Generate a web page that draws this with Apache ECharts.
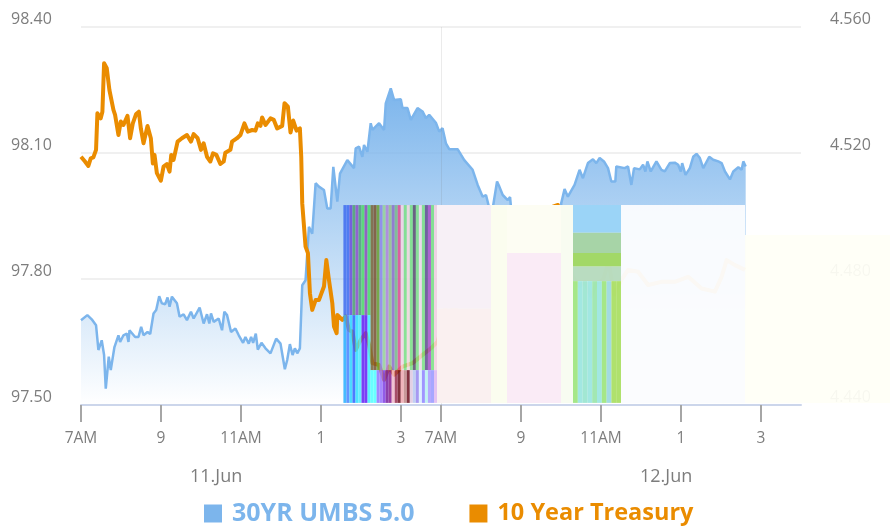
<!DOCTYPE html>
<html>
<head>
<meta charset="utf-8">
<style>html,body{margin:0;padding:0;background:#fff}#c{width:890px;height:529px}</style>
<script src="https://cdn.jsdelivr.net/npm/echarts@6/dist/echarts.min.js"></script>
</head>
<body>
<div id="c"></div>
<script>
// Time is in hours on a compressed session axis: 0 = 11 Jun 7AM, 9 = 12 Jun 7AM
const tickHours = [0, 2, 4, 6, 8, 9, 11, 13, 15, 17];
const tickLabels = ['7AM', '9', '11AM', '1', '3', '7AM', '9', '11AM', '1', '3'];
const dateLabels = ['11.Jun', '12.Jun'];
const seriesNames = ['30YR UMBS 5.0', '10 Year Treasury'];

const umbsHours = [0,.159,.268,.376,.435,.518,.577,.619,.694,.744,.836,.936,.978,1.061,1.145,1.187,1.212,1.354,1.437,1.504,1.563,1.663,1.73,1.813,1.88,1.955,2.022,2.106,2.164,2.214,2.273,2.398,2.465,2.565,2.649,2.749,2.816,2.966,3.066,3.15,3.208,3.25,3.317,3.442,3.526,3.584,3.651,3.751,3.86,3.944,4.052,4.111,4.194,4.253,4.303,4.37,4.42,4.512,4.612,4.737,4.879,4.988,5.096,5.155,5.222,5.289,5.347,5.406,5.472,5.531,5.614,5.698,5.781,5.865,5.948,6.074,6.157,6.241,6.308,6.408,6.475,6.658,6.825,6.867,6.951,7.034,7.076,7.16,7.243,7.285,7.452,7.577,7.619,7.744,7.828,7.995,8.037,8.162,8.246,8.413,8.538,8.622,8.705,8.872,8.956,9.039,9.123,9.206,9.415,9.582,9.791,9.917,10.042,10.125,10.209,10.292,10.401,10.459,10.543,10.668,10.727,10.752,11,11.5,12,12.005,12.089,12.172,12.339,12.464,12.548,12.673,12.799,12.882,12.966,13.074,13.175,13.258,13.358,13.383,13.592,13.676,13.759,13.826,13.968,14.052,14.11,14.16,14.244,14.386,14.511,14.595,14.72,14.845,14.929,14.996,15.029,15.113,15.221,15.305,15.388,15.472,15.556,15.706,15.806,15.932,16.015,16.099,16.224,16.307,16.433,16.516,16.558,16.617];
const umbsValues = [97.702,97.714,97.704,97.69,97.631,97.654,97.619,97.539,97.615,97.583,97.638,97.666,97.65,97.666,97.67,97.65,97.678,97.662,97.662,97.686,97.666,97.674,97.669,97.718,97.726,97.759,97.742,97.74,97.756,97.734,97.758,97.742,97.71,97.716,97.702,97.722,97.706,97.732,97.694,97.716,97.694,97.718,97.698,97.706,97.678,97.722,97.714,97.674,97.682,97.666,97.648,97.662,97.646,97.662,97.648,97.67,97.632,97.648,97.635,97.623,97.658,97.646,97.585,97.607,97.645,97.619,97.635,97.623,97.635,97.785,97.797,97.924,97.908,98.028,98.02,98.012,97.968,97.968,98.067,97.984,98.051,98.083,98.064,98.111,98.115,98.091,98.119,98.103,98.171,98.155,98.171,98.155,98.218,98.254,98.226,98.228,98.207,98.207,98.179,98.207,98.199,98.183,98.191,98.172,98.151,98.159,98.123,98.109,98.109,98.083,98.06,98.024,97.996,98,97.968,97.968,98.032,98.02,98,97.988,97.995,97.968,97.862,97.862,97.87,97.98,98.014,97.996,98.024,98.06,98.04,98.076,98.085,98.076,98.088,98.08,98.064,98.032,98.032,98.068,98.064,98.068,98.024,98.064,98.061,98.072,98.056,98.08,98.056,98.08,98.06,98.056,98.076,98.077,98.072,98.056,98.076,98.048,98.064,98.091,98.098,98.088,98.064,98.091,98.084,98.08,98.076,98.056,98.037,98.056,98.066,98.06,98.08,98.068];

const treasuryHours = [0,.1,.184,.243,.309,.376,.41,.493,.535,.577,.644,.71,.744,.811,.852,.894,.936,.994,1.061,1.103,1.162,1.228,1.295,1.379,1.446,1.496,1.563,1.663,1.746,1.796,1.838,1.897,1.997,2.064,2.147,2.214,2.256,2.314,2.415,2.523,2.649,2.749,2.816,2.916,3,3.066,3.15,3.233,3.3,3.384,3.484,3.567,3.609,3.735,3.776,3.902,3.985,4.086,4.169,4.278,4.361,4.42,4.486,4.528,4.612,4.737,4.821,4.904,5.03,5.088,5.172,5.238,5.305,5.389,5.472,5.506,5.531,5.614,5.673,5.723,5.781,5.865,5.948,6.074,6.133,6.199,6.283,6.325,6.391,6.408,6.533,6.617,6.7,6.784,6.868,6.993,7.118,7.202,7.285,7.452,7.578,7.703,7.828,8.037,8.288,8.538,8.747,8.914,9.04,9.123,9.374,9.583,9.833,10.168,10.335,10.46,10.669,10.752,10.919,11.087,11.254,11.462,11.588,11.671,11.797,11.922,12.047,12.298,12.465,12.59,12.757,12.883,13.05,13.192,13.326,13.509,13.676,13.927,14.177,14.511,14.845,15.18,15.514,15.848,16.015,16.14,16.349,16.6];
const treasuryValues = [4.5188,4.5173,4.5159,4.5183,4.5186,4.521,4.5326,4.531,4.5331,4.5485,4.5469,4.54,4.5405,4.5337,4.5321,4.5324,4.5257,4.53,4.5289,4.5284,4.5318,4.5247,4.5294,4.5324,4.5331,4.5278,4.5231,4.5286,4.5247,4.5167,4.5194,4.5136,4.5112,4.5157,4.5165,4.5141,4.5194,4.5178,4.5236,4.5247,4.5257,4.5236,4.526,4.5247,4.521,4.5231,4.5188,4.5173,4.5199,4.5194,4.5165,4.5173,4.5201,4.521,4.5236,4.5247,4.5257,4.5294,4.5268,4.5273,4.5271,4.5294,4.5286,4.5313,4.5289,4.531,4.5305,4.5278,4.5286,4.5358,4.5347,4.5265,4.5303,4.5271,4.5278,4.5188,4.504,4.4903,4.4882,4.4755,4.4702,4.4733,4.4733,4.4776,4.486,4.4797,4.4723,4.4649,4.4628,4.4686,4.467,4.4681,4.4638,4.4633,4.4575,4.4607,4.4628,4.4591,4.4533,4.4527,4.448,4.4522,4.4496,4.4522,4.4533,4.4559,4.458,4.4601,4.466,4.4718,4.4707,4.4766,4.4829,4.4893,4.4882,4.4845,4.4882,4.4967,4.4977,4.4945,4.4972,4.4956,4.4988,4.4967,4.503,4.5035,4.4924,4.4808,4.4776,4.4792,4.4744,4.4787,4.4797,4.4855,4.475,4.4797,4.4829,4.4823,4.4781,4.4791,4.4791,4.4807,4.477,4.476,4.4807,4.486,4.4844,4.4829];

// Palette of the reference's corrupted render, kept apart from the data
const stripUpperColors = ['#3f6cf0','#3f6cf0','#6a4cd8','#4fa070','#8a4fc8','#4f9f78','#4fd868','#8a4fb8','#48d868','#7a6438','#7a5230','#68a030','#8a86e8','#96d096','#ae82d8','#96c088','#8a70c8','#78b888','#e04c90','#f2d6e2','#7ce084','#f0d8d8','#7ce084','#5e4e70','#80e088','#f2d8e6','#7ce084','#644e90','#a850c8','#7ce084','#f4d0e0'];
const stripLowerColors = ['#28b0ff','#4a84ff','#30d4ff','#3064ff','#30e0ff','#50e8ff','#6420f4','#6420f4','#40f0ff','#50ffff','#50ffff','#9074ff','#9874ff','#8040e4','#7820a0','#882090','#f0b8cc','#983050','#701020','#f0a8b0','#c08888','#701020','#e0c8e0','#b8c8f0','#9888f0','#d8ecff','#9084ff','#b8f0f0','#a898ff','#9898ff','#e0b8f0'];

function fix(n, d) { return Number(n).toFixed(d); }
function zip(a, b) { return a.map((x, i) => [x, b[i]]); }

const T = 97.976, B = 97.505;
const overlay = [];
function rect(h0, h1, v0, v1, color, opacity) {
  overlay.push({ value: [h0, h1, v0, v1], itemStyle: { color, opacity } });
}
// pale panels first
rect(8.9, 16.6, T, B, '#fbfcfe', 0.96);
rect(16.6, 20.3, 97.905, B, '#fffff6', 0.94);
rect(8.9, 10.25, T, 97.73, '#f7f0f6', 0.97);
rect(8.9, 10.25, 97.73, B, '#faf0f0', 0.97);
rect(10.25, 10.65, T, B, '#fbfdee', 0.97);
rect(10.65, 12.0, T, 97.862, '#fdfdf2', 0.94);
rect(10.65, 12.0, 97.862, B, '#faeaf6', 0.96);
rect(12.0, 12.3, T, B, '#f8fcf0', 0.96);
// green block
rect(12.3, 13.5, T, 97.91, '#93d0f6', 0.92);
rect(12.3, 13.5, 97.91, 97.862, '#a0d0a0', 0.92);
rect(12.3, 13.5, 97.862, 97.83, '#9ad55a', 0.92);
rect(12.3, 13.5, 97.83, 97.795, '#a0d0a8', 0.72);
const greenCols = ['#88e060','#84e0d8','#84e0c4','#84e0d8','#84e098','#84e0d8','#88e060','#84d0d8','#96d83c','#96d83c'];
greenCols.forEach((c, i) => {
  const w = 1.2 / greenCols.length;
  rect(12.3 + i * w, 12.3 + (i + 1) * w, 97.795, B, c, 0.75);
});
// vertical strips
const S0 = 6.56, S1 = 8.9, W = (S1 - S0) / stripUpperColors.length;
stripUpperColors.forEach((c, i) => {
  const split = i < 9 ? 97.714 : 97.583;
  rect(S0 + i * W, S0 + (i + 1) * W, T, split, c, 0.86);
  rect(S0 + i * W, S0 + (i + 1) * W, split, B, stripLowerColors[i], 0.86);
});

const GREY = '#7d7d7d';
const FONT = '"Open Sans", sans-serif';

const chart = echarts.init(document.getElementById('c'), null, { renderer: 'canvas' });
chart.setOption({
  animation: false,
  backgroundColor: '#fff',
  textStyle: { fontFamily: FONT },
  grid: { left: 81, right: 89, top: 27, bottom: 124, containLabel: false },
  xAxis: {
    type: 'value', min: 0, max: 18,
    axisLine: { show: true, onZero: false, lineStyle: { color: '#ccd6eb', width: 2 } },
    axisTick: { show: true, customValues: tickHours, length: 17, lineStyle: { color: '#a6a6a6', width: 2 } },
    axisLabel: {
      show: true, customValues: tickHours, margin: 26, fontSize: 15.5, color: GREY, fontFamily: FONT,
      formatter: v => tickLabels[tickHours.indexOf(v)] ?? ''
    },
    splitLine: { show: false }
  },
  yAxis: [
    {
      type: 'value', min: 97.5, max: 98.4, interval: 0.3,
      axisLine: { show: false }, axisTick: { show: false },
      axisLabel: { margin: 70, align: 'left', verticalAlign: 'bottom', fontSize: 16, color: GREY, fontFamily: FONT, formatter: v => fix(v, 2) },
      splitLine: { show: true, lineStyle: { color: '#f0f0f0', width: 2 } }
    },
    {
      type: 'value', min: 4.44, max: 4.56, interval: 0.04,
      axisLine: { show: false }, axisTick: { show: false },
      axisLabel: { margin: 29, align: 'left', verticalAlign: 'bottom', fontSize: 16, color: GREY, fontFamily: FONT, formatter: v => fix(v, 3) },
      splitLine: { show: false }
    }
  ],
  legend: {
    left: 204, top: 501, padding: 0, icon: 'rect', itemWidth: 18, itemHeight: 18, itemGap: 55, selectedMode: false,
    textStyle: { fontSize: 25, fontWeight: 'bold', fontFamily: FONT, padding: [0, 0, 0, 5] },
    data: [
      { name: seriesNames[0], textStyle: { color: '#7cb5ec' }, itemStyle: { color: '#7cb5ec' } },
      { name: seriesNames[1], textStyle: { color: '#ea8c00', fontSize: 23.5, fontWeight: 'bold', fontFamily: FONT, padding: [0, 0, 0, 5] }, itemStyle: { color: '#ea8c00' } }
    ]
  },
  graphic: [
    { type: 'text', left: 190, top: 468, style: { text: dateLabels[0], fontSize: 18, fill: GREY, fontFamily: FONT } },
    { type: 'text', left: 640, top: 468, style: { text: dateLabels[1], fontSize: 18, fill: GREY, fontFamily: FONT } }
  ],
  series: [
    {
      name: seriesNames[0], type: 'line', yAxisIndex: 0, z: 2, showSymbol: false, silent: true,
      data: zip(umbsHours, umbsValues),
      lineStyle: { color: '#7cb5ec', width: 2.5 },
      itemStyle: { color: '#7cb5ec' },
      areaStyle: {
        origin: 'start', opacity: 1,
        color: { type: 'linear', x: 0, y: 0, x2: 0, y2: 1, colorStops: [
          { offset: 0, color: 'rgba(124,181,236,1)' },
          { offset: 1, color: 'rgba(124,181,236,0)' }
        ] }
      },
      markLine: {
        silent: true, symbol: 'none', label: { show: false }, z: 4,
        lineStyle: { color: 'rgba(110,110,110,0.14)', width: 1, type: 'solid' },
        data: [{ xAxis: tickHours[5] }]
      }
    },
    {
      name: seriesNames[1], type: 'line', yAxisIndex: 1, z: 3, showSymbol: false, silent: true,
      data: zip(treasuryHours, treasuryValues),
      lineStyle: { color: '#ea8c00', width: 4, join: 'round' },
      itemStyle: { color: '#ea8c00' }
    },
    {
      type: 'custom', yAxisIndex: 0, z: 10, clip: false, silent: true,
      encode: { x: [0, 1], y: [2, 3] },
      data: overlay,
      renderItem: (params, api) => {
        const a = api.coord([api.value(0), api.value(2)]);
        const b = api.coord([api.value(1), api.value(3)]);
        return { type: 'rect', shape: { x: a[0], y: a[1], width: b[0] - a[0], height: b[1] - a[1] }, style: api.style() };
      }
    }
  ]
});
</script>
</body>
</html>
